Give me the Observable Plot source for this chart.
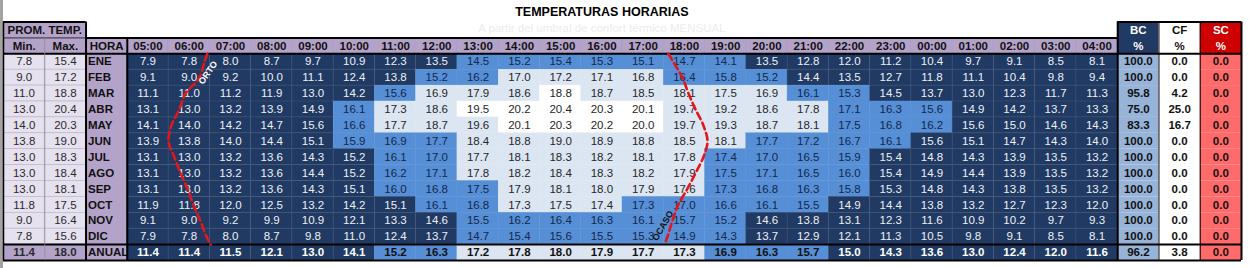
<!DOCTYPE html>
<html><head><meta charset="utf-8">
<script src="https://cdn.jsdelivr.net/npm/d3@7"></script>
<script src="https://cdn.jsdelivr.net/npm/@observablehq/plot@0.6"></script>
<style>
body{margin:0;background:#fff;font-family:"Liberation Sans",Arial,sans-serif;}
#wrap{position:relative;width:1249px;height:268px;overflow:hidden;}
#edge{position:absolute;left:0;top:0;width:3px;height:268px;background:#a3a3a3;}
#wrap svg{position:absolute;left:0;top:0;}
</style></head><body><div id="wrap"><div id="edge"></div></div>
<script>
const horas = ["05:00","06:00","07:00","08:00","09:00","10:00","11:00","12:00","13:00","14:00","15:00","16:00","17:00","18:00","19:00","20:00","21:00","22:00","23:00","00:00","01:00","02:00","03:00","04:00"];
const meses = ["ENE","FEB","MAR","ABR","MAY","JUN","JUL","AGO","SEP","OCT","NOV","DIC"];
const ENE = [7.9,7.8,8.0,8.7,9.7,10.9,12.3,13.5,14.5,15.2,15.4,15.3,15.1,14.7,14.1,13.5,12.8,12.0,11.2,10.4,9.7,9.1,8.5,8.1];
const FEB = [9.1,9.0,9.2,10.0,11.1,12.4,13.8,15.2,16.2,17.0,17.2,17.1,16.8,16.4,15.8,15.2,14.4,13.5,12.7,11.8,11.1,10.4,9.8,9.4];
const MAR = [11.1,11.0,11.2,11.9,13.0,14.2,15.6,16.9,17.9,18.6,18.8,18.7,18.5,18.1,17.5,16.9,16.1,15.3,14.5,13.7,13.0,12.3,11.7,11.3];
const ABR = [13.1,13.0,13.2,13.9,14.9,16.1,17.3,18.6,19.5,20.2,20.4,20.3,20.1,19.7,19.2,18.6,17.8,17.1,16.3,15.6,14.9,14.2,13.7,13.3];
const MAY = [14.1,14.0,14.2,14.7,15.6,16.6,17.7,18.7,19.6,20.1,20.3,20.2,20.0,19.7,19.3,18.7,18.1,17.5,16.8,16.2,15.6,15.0,14.6,14.3];
const JUN = [13.9,13.8,14.0,14.4,15.1,15.9,16.9,17.7,18.4,18.8,19.0,18.9,18.8,18.5,18.1,17.7,17.2,16.7,16.1,15.6,15.1,14.7,14.3,14.0];
const JUL = [13.1,13.0,13.2,13.6,14.3,15.2,16.1,17.0,17.7,18.1,18.3,18.2,18.1,17.8,17.4,17.0,16.5,15.9,15.4,14.8,14.3,13.9,13.5,13.2];
const AGO = [13.1,13.0,13.2,13.6,14.4,15.2,16.2,17.1,17.8,18.2,18.4,18.3,18.2,17.9,17.5,17.1,16.5,16.0,15.4,14.9,14.4,13.9,13.5,13.2];
const SEP = [13.1,13.0,13.2,13.6,14.3,15.1,16.0,16.8,17.5,17.9,18.1,18.0,17.9,17.6,17.3,16.8,16.3,15.8,15.3,14.8,14.3,13.8,13.5,13.2];
const OCT = [11.9,11.8,12.0,12.5,13.2,14.2,15.1,16.1,16.8,17.3,17.5,17.4,17.3,17.0,16.6,16.1,15.5,14.9,14.4,13.8,13.2,12.7,12.3,12.0];
const NOV = [9.1,9.0,9.2,9.9,10.9,12.1,13.3,14.6,15.5,16.2,16.4,16.3,16.1,15.7,15.2,14.6,13.8,13.1,12.3,11.6,10.9,10.2,9.7,9.3];
const DIC = [7.9,7.8,8.0,8.7,9.8,11.0,12.4,13.7,14.7,15.4,15.6,15.5,15.3,14.9,14.3,13.7,12.9,12.1,11.3,10.5,9.8,9.1,8.5,8.1];
const ANUAL = [11.4,11.4,11.5,12.1,13.0,14.1,15.2,16.3,17.2,17.8,18.0,17.9,17.7,17.3,16.9,16.3,15.7,15.0,14.3,13.6,13.0,12.4,12.0,11.6];
const tMin = [7.8,9.0,11.0,13.0,14.0,13.8,13.0,13.0,13.0,11.8,9.0,7.8,11.4];
const tMax = [15.4,17.2,18.8,20.4,20.3,19.0,18.3,18.4,18.1,17.5,16.4,15.6,18.0];
const BC = [100.0,100.0,95.8,75.0,83.3,100.0,100.0,100.0,100.0,100.0,100.0,100.0,96.2];
const CF = [0.0,0.0,4.2,25.0,16.7,0.0,0.0,0.0,0.0,0.0,0.0,0.0,3.8];
const SC = [0.0,0.0,0.0,0.0,0.0,0.0,0.0,0.0,0.0,0.0,0.0,0.0,0.0];
// comfort zone per cell: 0 cold, 1 cool, 2 near comfort, 3 comfort
const zonas = [
 "000000001111111000000000",
 "000000011222211100000000",
 "000000122232222211000000",
 "000001223333322221110000",
 "000001222333322221110000",
 "000001112222222111100000",
 "000000112222221111000000",
 "000000112222221111000000",
 "000000111222221111000000",
 "000000011222111110000000",
 "000000001111111000000000",
 "000000001111111000000000",
 "000000112222221110000000"
];
// sunrise / sunset (hours), from top edge of ENE, each month, to bottom edge of DIC
const orto  = [6.94,6.87,6.75,6.41,6.26,6.07,6.00,6.14,6.29,6.46,6.60,6.77,6.92,7.02];
const ocaso = [18.11,18.23,18.45,18.60,18.77,18.96,19.06,18.96,18.77,18.57,18.35,18.21,18.09,18.02];

const filas = [ENE,FEB,MAR,ABR,MAY,JUN,JUL,AGO,SEP,OCT,NOV,DIC,ANUAL];
const etiquetas = [...meses, "ANUAL"];
const C0 = 3;
const CBC = C0 + horas.length;
const NC = CBC + 3;
const R0 = 2;
const NR = R0 + filas.length;
const colOf = h => C0 + horas.indexOf(h);

const NAVY = "#203a63", MED = "#568fd6", LIGHT = "#dce6f2", WHITE = "#ffffff";
const PURPLE = "#b4a3c9", LAV = "#e6e1ee";
const fills = [NAVY, MED, LIGHT, WHITE];
const inks = ["#eef0f4", "#14284a", "#262626", "#262626"];

const celdas = [];
filas.forEach((vals, r) => vals.forEach((v, c) => celdas.push({
  r: R0 + r, c: C0 + c, v, z: +zonas[r][c], anual: r === filas.length - 1
})));
const filasIdx = filas.map((_, r) => ({r: R0 + r, anual: r === filas.length - 1, i: r}));
const mesIdx = filasIdx.filter(d => !d.anual);
const anualIdx = filasIdx.filter(d => d.anual);

const hourToX = h => C0 + (h - 5);
const curvaY = [R0, ...meses.map((_, i) => R0 + i + 0.5), R0 + meses.length];
const ortoPts = orto.map((t, i) => ({x: hourToX(t), y: curvaY[i]}));
const ocasoPts = ocaso.map((t, i) => ({x: hourToX(t), y: curvaY[i]}));

const rect = (data, o) => Plot.rect(data, {inset: 0, ...o});
const B = "#000";

const hLines = [
  {y: 0, x1: 0, x2: 2, w: 2}, {y: 1, x1: 0, x2: 2, w: 0.8},
  {y: 1, x1: 2, x2: CBC, w: 2}, {y: 0, x1: CBC, x2: NC, w: 2},
  {y: R0, x1: 0, x2: NC, w: 2}, {y: NR - 1, x1: 0, x2: NC, w: 2}, {y: NR, x1: 0, x2: NC, w: 2}
];
const vLines = [
  {x: 0, y1: 0, y2: NR, w: 1.5}, {x: 2, y1: 0, y2: NR, w: 2}, {x: C0, y1: 1, y2: NR, w: 2},
  {x: CBC, y1: 0, y2: NR, w: 2}, {x: NC, y1: 0, y2: NR, w: 2},
  {x: CBC + 1, y1: 0, y2: NR, w: 1}, {x: CBC + 2, y1: 0, y2: NR, w: 1}
];

const titleX = colOf("16:00") + 0.5;
const FS = 11.5;

function sideText(rows, weight) {
  return [
    Plot.text(rows, {x: () => 2, y: d => d.r + 0.5, dx: 2, textAnchor: "start", text: d => etiquetas[d.i], fontWeight: "bold", fontSize: FS, fill: "#111"}),
    Plot.text(rows, {x: () => 0.5, y: d => d.r + 0.5, text: d => tMin[d.i].toFixed(1), fill: "#2a2a2a", fontWeight: weight, fontSize: FS}),
    Plot.text(rows, {x: () => 1.5, y: d => d.r + 0.5, text: d => tMax[d.i].toFixed(1), fill: "#2a2a2a", fontWeight: weight, fontSize: FS})
  ];
}

const chart = Plot.plot({
  width: 1249, height: 268,
  marginLeft: 3, marginRight: 8, marginTop: 21.5, marginBottom: 8,
  x: {domain: [0, NC], axis: null},
  y: {domain: [0, NR], reverse: true, axis: null},
  style: {fontFamily: "'Liberation Sans', Arial, sans-serif", fontSize: "11px", background: "transparent", overflow: "visible"},
  marks: [
    rect([0], {x1: 0, x2: 2, y1: 0, y2: 1, fill: PURPLE}),
    rect([0], {x1: 0, x2: C0, y1: 1, y2: 2, fill: PURPLE}),
    rect(horas, {x1: (d) => colOf(d), x2: (d) => colOf(d) + 1, y1: 1, y2: 2, fill: PURPLE, stroke: "#a795bf", strokeWidth: 0.5}),
    rect([0], {x1: 2, x2: C0, y1: R0, y2: NR, fill: PURPLE}),
    rect([0], {x1: CBC, x2: CBC + 1, y1: 0, y2: R0, fill: NAVY}),
    rect([0], {x1: CBC + 1, x2: CBC + 2, y1: 0, y2: R0, fill: WHITE}),
    rect([0], {x1: CBC + 2, x2: CBC + 3, y1: 0, y2: R0, fill: "#cf0000"}),
    rect(filasIdx, {x1: 0, x2: 1, y1: "r", y2: d => d.r + 1, fill: d => d.anual ? PURPLE : LAV, stroke: "#b8b2c4", strokeWidth: 0.6}),
    rect(filasIdx, {x1: 1, x2: 2, y1: "r", y2: d => d.r + 1, fill: d => d.anual ? PURPLE : LAV, stroke: "#b8b2c4", strokeWidth: 0.6}),
    rect(filasIdx, {x1: CBC, x2: CBC + 1, y1: "r", y2: d => d.r + 1, fill: "#97b4d8"}),
    rect(filasIdx, {x1: CBC + 1, x2: CBC + 2, y1: "r", y2: d => d.r + 1, fill: WHITE}),
    rect(filasIdx, {x1: CBC + 2, x2: CBC + 3, y1: "r", y2: d => d.r + 1, fill: "#ff6a6a"}),
    rect(celdas, {x1: "c", x2: d => d.c + 1, y1: "r", y2: d => d.r + 1, fill: d => fills[d.z], stroke: d => fills[d.z], strokeWidth: 0.4}),
    rect(celdas.filter(d => d.z === 0), {x1: "c", x2: d => d.c + 1, y1: "r", y2: d => d.r + 1, fill: "none", stroke: "#ffffff", strokeOpacity: 0.06, strokeWidth: 0.8}),
    Plot.text(celdas.filter(d => !d.anual), {x: d => d.c + 0.5, y: d => d.r + 0.5, text: d => d.v.toFixed(1), fill: d => inks[d.z], fontSize: FS}),
    Plot.text(celdas.filter(d => d.anual), {x: d => d.c + 0.5, y: d => d.r + 0.5, text: d => d.v.toFixed(1), fill: d => d.z === 0 ? "#ffffff" : "#111", fontWeight: "bold", fontSize: FS}),
    Plot.text(["PROM. TEMP."], {x: () => 1, y: () => 0.5, fontWeight: "bold", fontSize: FS, fill: "#111"}),
    Plot.text(["Min.", "Max.", "HORA"], {x: (d, i) => i + 0.5, y: () => 1.5, fontWeight: "bold", fontSize: FS, fill: "#111"}),
    Plot.text(horas, {x: d => colOf(d) + 0.5, y: () => 1.5, fontWeight: "bold", fontSize: FS, fill: "#111"}),
    Plot.text(["BC", "CF", "SC"], {x: (d, i) => CBC + i + 0.5, y: () => 0.55, fontWeight: "bold", fontSize: FS, fill: (d, i) => i === 1 ? "#111" : "#fff"}),
    Plot.text(["%", "%", "%"], {x: (d, i) => CBC + i + 0.5, y: () => 1.5, fontWeight: "bold", fontSize: FS, fill: (d, i) => i === 1 ? "#111" : "#fff"}),
    ...sideText(mesIdx, "normal"),
    ...sideText(anualIdx, "bold"),
    Plot.text(filasIdx, {x: () => CBC + 0.5, y: d => d.r + 0.5, text: d => BC[d.i].toFixed(1), fill: "#111", fontWeight: "bold", fontSize: FS}),
    Plot.text(filasIdx, {x: () => CBC + 1.5, y: d => d.r + 0.5, text: d => CF[d.i].toFixed(1), fill: "#111", fontWeight: "bold", fontSize: FS}),
    Plot.text(filasIdx, {x: () => CBC + 2.5, y: d => d.r + 0.5, text: d => SC[d.i].toFixed(1), fill: "#111", fontWeight: "bold", fontSize: FS}),
    Plot.ruleY(hLines, {y: "y", x1: "x1", x2: "x2", stroke: B, strokeWidth: "w"}),
    Plot.ruleX(vLines, {x: "x", y1: "y1", y2: "y2", stroke: B, strokeWidth: "w"}),
    Plot.ruleX([1], {y1: 1, y2: NR, stroke: "#8f889c", strokeWidth: 0.8}),
    Plot.line(ortoPts, {x: "x", y: "y", curve: "catmull-rom", stroke: "#e3161b", strokeWidth: 2.6, strokeDasharray: "7,4"}),
    Plot.line(ocasoPts, {x: "x", y: "y", curve: "catmull-rom", stroke: "#e3161b", strokeWidth: 2.6, strokeDasharray: "7,4"}),
    Plot.text([ortoPts[2]], {x: "x", y: "y", text: () => "ORTO", dx: 8.5, dy: -5, rotate: -55, fill: "#fff", fontWeight: "bold", fontSize: 9}),
    Plot.text([ocasoPts[11]], {x: "x", y: "y", text: () => "OCASO", dx: -9.5, dy: 5, rotate: -60, fill: "#111", fontWeight: "bold", fontSize: 9}),
    Plot.text(["TEMPERATURAS HORARIAS"], {x: () => titleX, y: () => -0.6, fontWeight: "bold", fontSize: 12.5, fill: "#000"}),
    Plot.text(["A partir del umbral de confort térmico MENSUAL"], {x: () => titleX, y: () => 0.42, fontSize: 11.5, fill: "#ececec"})
  ]
});
document.getElementById("wrap").appendChild(chart);
</script>
</body></html>
